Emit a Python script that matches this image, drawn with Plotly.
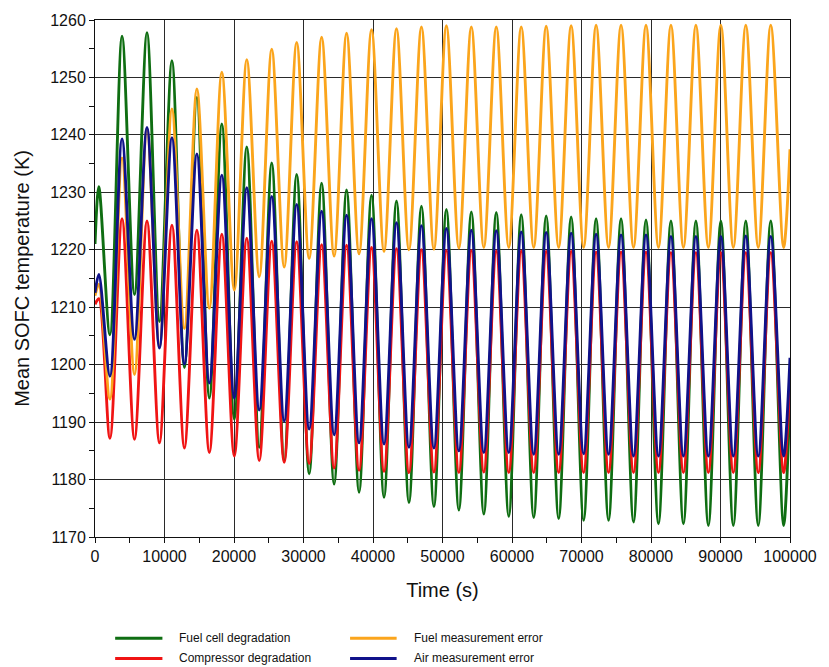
import plotly.graph_objects as go

# Times (s) of the oscillation maxima and minima, plus the start/end of the run
start_time = [0, 550]
peak_time = [3890, 7480, 11070, 14660, 18250, 21840, 25430, 29020, 32610, 36200,
             39790, 43380, 46970, 50560, 54150, 57740, 61330, 64920, 68510, 72100,
             75690, 79280, 82870, 86460, 90050, 93640, 97230]
trough_time = [2150, 5685, 9275, 12865, 16455, 20045, 23635, 27225, 30815, 34405,
               37995, 41585, 45175, 48765, 52355, 55945, 59535, 63125, 66715, 70305,
               73895, 77485, 81075, 84665, 88255, 91845, 95435, 99080]
end_time = 100000

# Fuel cell degradation (K)
fc_start = [1221.0, 1231.0]
fc_peaks = [1257.2, 1257.8, 1252.9, 1246.5, 1241.9, 1237.9, 1235.1, 1233.1, 1231.6, 1230.4,
            1229.5, 1228.5, 1227.6, 1227.0, 1226.6, 1226.5, 1226.1, 1225.9, 1225.7, 1225.4,
            1225.4, 1225.2, 1225.0, 1225.0, 1225.0, 1225.0, 1225.0]
fc_troughs = [1205.2, 1212.2, 1207.5, 1199.5, 1194.2, 1190.5, 1185.6, 1183.3, 1181.0, 1179.2,
              1177.8, 1176.9, 1176.0, 1175.3, 1174.7, 1174.0, 1173.6, 1173.4, 1173.2, 1172.9,
              1172.9, 1172.6, 1172.3, 1172.3, 1172.0, 1172.0, 1172.0, 1172.0]
fc_end = 1195.0

# Compressor degradation (K)
cp_start = [1210.5, 1211.5]
cp_peaks = [1225.4, 1225.0, 1224.3, 1223.4, 1222.7, 1222.0, 1221.5, 1221.4, 1220.9, 1220.8,
            1220.4, 1220.2, 1220.0, 1219.9, 1219.9, 1219.8, 1219.8, 1219.7, 1219.7, 1219.6,
            1219.6, 1219.6, 1219.5, 1219.5, 1219.5, 1219.5, 1219.5]
cp_troughs = [1187.2, 1187.0, 1186.4, 1185.5, 1184.7, 1184.1, 1183.3, 1183.0, 1182.8, 1182.0,
              1181.6, 1181.4, 1181.2, 1181.3, 1181.2, 1181.3, 1181.2, 1181.2, 1181.2, 1181.2,
              1181.2, 1181.2, 1181.2, 1181.2, 1181.2, 1181.2, 1181.2, 1181.2]
cp_end = 1197.5

# Fuel measurement error (K)
fm_start = [1212.0, 1214.0]
fm_peaks = [1236.0, 1241.0, 1244.5, 1248.0, 1250.9, 1253.1, 1254.9, 1256.1, 1257.0, 1257.7,
            1258.3, 1258.5, 1258.8, 1259.0, 1258.8, 1258.8, 1258.8, 1258.9, 1259.0, 1259.1,
            1259.1, 1259.1, 1259.1, 1259.1, 1259.1, 1259.1, 1259.1]
fm_troughs = [1194.0, 1198.3, 1203.0, 1206.3, 1209.8, 1213.0, 1215.3, 1217.0, 1218.5, 1218.9,
              1219.3, 1219.7, 1220.0, 1220.1, 1220.3, 1220.4, 1220.4, 1220.4, 1220.4, 1220.4,
              1220.4, 1220.4, 1220.4, 1220.4, 1220.4, 1220.4, 1220.4, 1220.4]
fm_end = 1237.5

# Air measurement error (K)
am_start = [1212.5, 1215.7]
am_peaks = [1239.3, 1241.3, 1239.5, 1236.7, 1233.0, 1230.8, 1229.3, 1227.9, 1226.7, 1226.0,
            1225.4, 1224.7, 1224.2, 1223.7, 1223.4, 1223.3, 1223.1, 1223.0, 1222.9, 1222.7,
            1222.6, 1222.6, 1222.3, 1222.3, 1222.3, 1222.4, 1222.3]
am_troughs = [1198.0, 1204.4, 1202.9, 1200.1, 1196.8, 1194.2, 1192.1, 1190.2, 1188.8, 1187.8,
              1186.4, 1186.2, 1185.6, 1185.5, 1185.0, 1184.7, 1184.7, 1184.4, 1184.4, 1184.5,
              1184.4, 1184.1, 1184.1, 1184.1, 1184.1, 1184.1, 1184.1, 1184.1]
am_end = 1201.2

names = ["Fuel cell degradation", "Compressor degradation",
         "Fuel measurement error", "Air measurement error"]
colors = ["#0f6e12", "#f01414", "#fba51c", "#10128a"]


def assemble(start, troughs, peaks, end):
    """Interleave the extrema in time order: trough, peak, trough, ..."""
    t = list(start_time)
    v = list(start)
    for i, tr in enumerate(troughs):
        t.append(trough_time[i])
        v.append(tr)
        if i < len(peaks):
            t.append(peak_time[i])
            v.append(peaks[i])
    t.append(end_time)
    v.append(end)
    return t, v


curves = [
    assemble(fc_start, fc_troughs, fc_peaks, fc_end),
    assemble(cp_start, cp_troughs, cp_peaks, cp_end),
    assemble(fm_start, fm_troughs, fm_peaks, fm_end),
    assemble(am_start, am_troughs, am_peaks, am_end),
]

fig = go.Figure()
for (t, v), name, col in zip(curves, names, colors):
    fig.add_trace(go.Scatter(
        x=t, y=v, mode="lines", name=name,
        line=dict(color=col, width=2.9, shape="spline", smoothing=0.9),
        showlegend=False,
    ))

font_main = "Liberation Sans, Arial, Helvetica, sans-serif"

axis_common = dict(
    showline=True, linecolor="#111111", linewidth=1, mirror=True,
    showgrid=True, gridcolor="#2a2a2a", gridwidth=1,
    ticks="outside", ticklen=5, tickcolor="#111111", tickwidth=1,
    zeroline=False,
    tickfont=dict(family=font_main, size=16, color="#111111"),
)

fig.update_xaxes(
    range=[0, 100000], dtick=10000, tick0=0, tickformat="d",
    minor=dict(dtick=5000, ticks="outside", ticklen=5, tickcolor="#111111", showgrid=False),
    title=dict(text="Time (s)", font=dict(family=font_main, size=20, color="#111111"),
               standoff=18),
    **axis_common,
)
fig.update_yaxes(
    range=[1170, 1260], dtick=10, tick0=1170,
    minor=dict(dtick=5, ticks="outside", ticklen=5, tickcolor="#111111", showgrid=False),
    title=dict(text="Mean SOFC temperature (K)",
               font=dict(family=font_main, size=20, color="#111111"), standoff=15),
    **axis_common,
)

# Two-column legend underneath the plot area
legend_rows = [(0, -0.196), (1, -0.235), (2, -0.196), (3, -0.235)]
legend_cols = {0: (0.029, 0.097, 0.118), 1: (0.029, 0.097, 0.118),
               2: (0.367, 0.434, 0.456), 3: (0.367, 0.434, 0.456)}
for idx, ypos in legend_rows:
    x0, x1, xt = legend_cols[idx]
    fig.add_shape(type="line", xref="paper", yref="paper", x0=x0, x1=x1, y0=ypos, y1=ypos,
                  line=dict(color=colors[idx], width=3))
    fig.add_annotation(xref="paper", yref="paper", x=xt, y=ypos, text=names[idx],
                       showarrow=False, xanchor="left", yanchor="middle",
                       font=dict(family=font_main, size=12, color="#111111"))

fig.update_layout(
    width=829, height=667,
    margin=dict(l=95, r=33, t=17, b=130),
    paper_bgcolor="white", plot_bgcolor="white",
    showlegend=False,
)

fig.write_html("out.html")
